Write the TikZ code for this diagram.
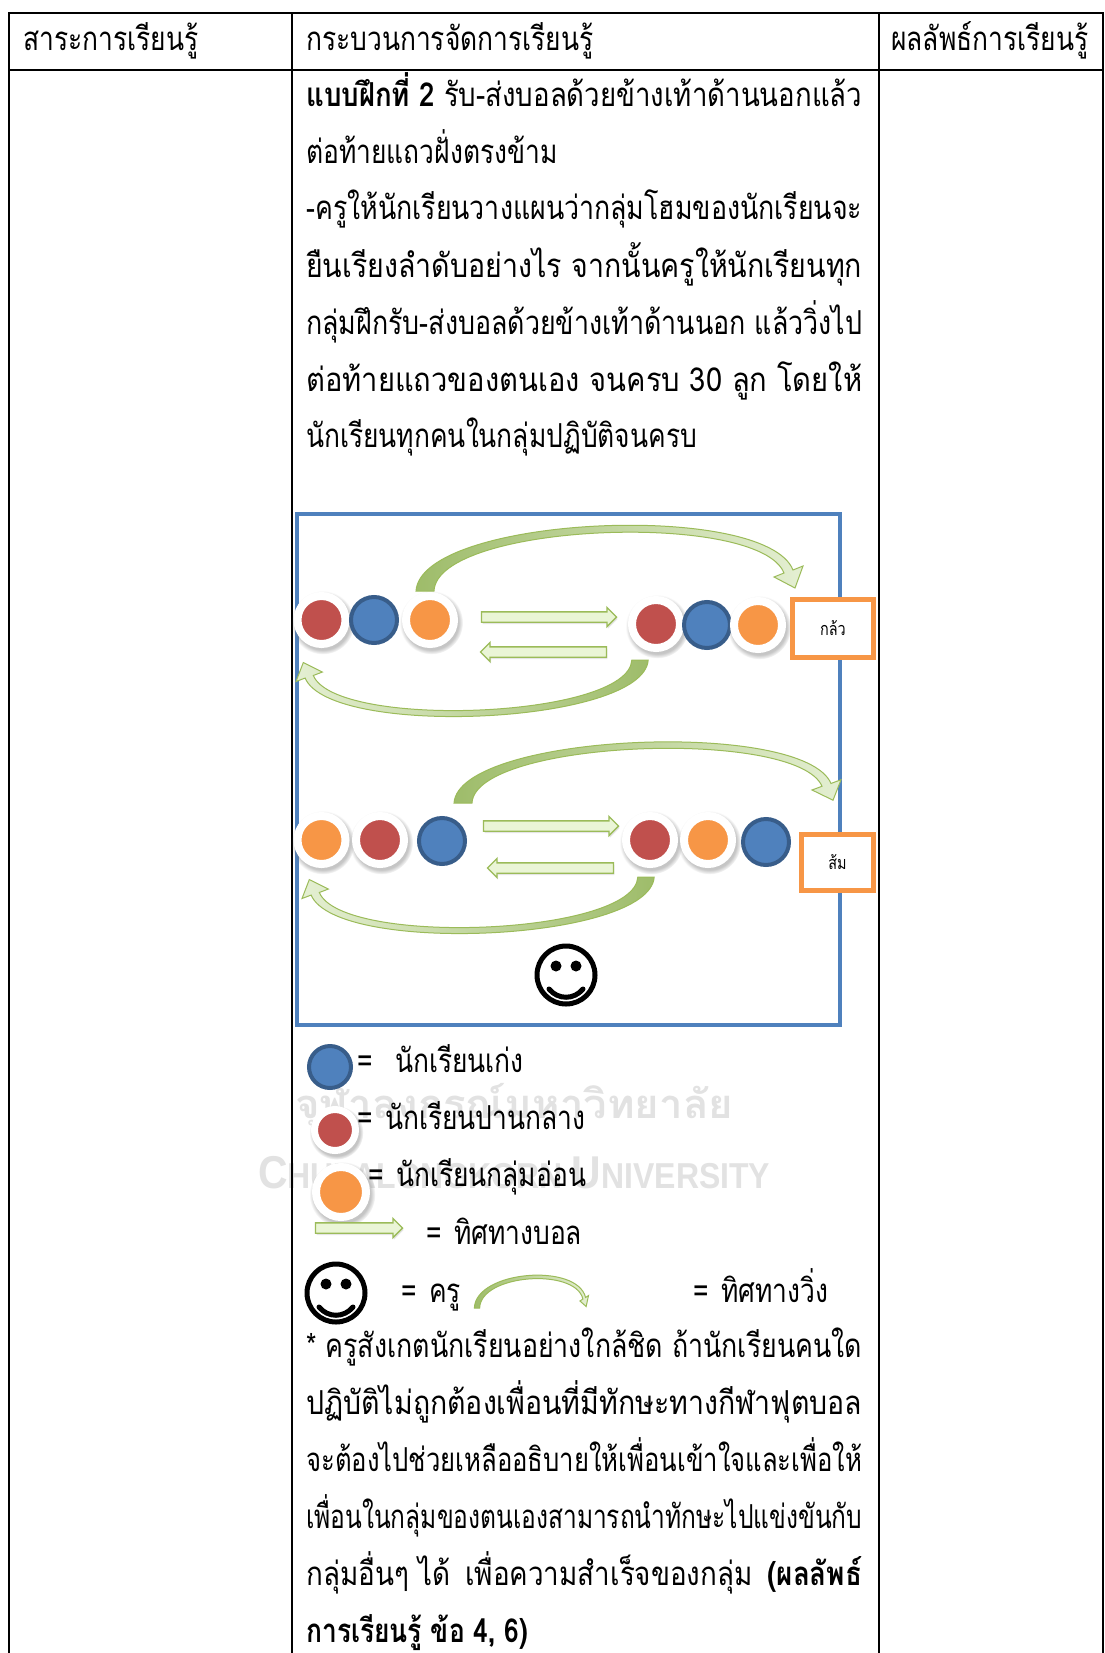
\documentclass[tikz,border=0pt]{standalone}
\usepackage{fontspec}
\usepackage{graphicx}
\newfontfamily\thaifont[Script=Thai,FakeStretch=0.8]{Loma}
\newfontfamily\markfont{Liberation Sans}
\usetikzlibrary{positioning,shapes.arrows,shadows}
\definecolor{frameblue}{HTML}{4F81BD}
\definecolor{goodblue}{HTML}{4F81BD}
\definecolor{gooddark}{HTML}{385D8A}
\definecolor{midred}{HTML}{C0504D}
\definecolor{weakorange}{HTML}{F79646}
\definecolor{runline}{HTML}{9BBB59}
\definecolor{rundark}{HTML}{9EBC6A}
\definecolor{runlight}{HTML}{E4EFD2}
\definecolor{passfill}{HTML}{EAF5D6}
\definecolor{markgrey}{HTML}{E2E2E2}
\newcommand{\fullline}[1]{\resizebox{556pt}{\height}{#1}}
\tikzset{
	txt/.style={anchor=base west,inner sep=0pt,font=\thaifont\fontsize{33}{36}\selectfont},
	wmark/.style={anchor=base west,inner sep=0pt,text=markgrey},
	cell/.style={line width=2.5pt,black},
	frame/.style={rectangle,draw=frameblue,line width=4.5pt,inner sep=0pt},
	player/.style={circle,inner sep=0pt,minimum size=48pt,draw=white,line width=8pt,circular drop shadow={shadow scale=1.32,shadow xshift=1pt,shadow yshift=-2pt,opacity=.45}},
	mid/.style={player,fill=midred},
	weak/.style={player,fill=weakorange},
	good/.style={circle,inner sep=0pt,minimum size=46pt,fill=goodblue,draw=gooddark,line width=4pt},
	tag/.style={rectangle,draw=weakorange,line width=4.5pt,fill=white,inner sep=0pt,font=\thaifont\fontsize{18}{20}\selectfont},
	pass/.style={single arrow,draw=runline,fill=passfill,line width=1.3pt,inner xsep=0pt,inner ysep=4.5pt,single arrow head extend=4.5pt,drop shadow={shadow xshift=1pt,shadow yshift=-2pt,opacity=.2}},
	run/.pic={
		\path[pic actions] (-9,0) .. controls (-4,-75) and (340,-91) .. (368,-21) -- (378,-25) -- (370,-3)
			-- (349,-14) -- (359,-18) .. controls (334,-81) and (12,-68) .. (9,0) -- cycle;
	},
	face/.pic={
		\draw[line width=5pt] (0,0) circle (29pt);
		\fill (-10,-9) circle (5.5pt) (10,-9) circle (5.5pt);
		\draw[line width=5pt,line cap=round] (-17,14) .. controls (-8,25) and (8,25) .. (17,14);
	}
}
\begin{document}
\begin{tikzpicture}[x=1pt,y=-1pt]
	\useasboundingbox (0,0) rectangle (1104,1653);
	\fill[white] (0,0) rectangle (1104,1653);
	
	% watermark
	\node[wmark] (wmthai) at (295,1118) {\thaifont\fontsize{40}{40}\selectfont\resizebox{438pt}{\height}{\textbf{จุฬาลงกรณ์มหาวิทยาลัย}}};
	\node[wmark] (wmeng) at (258,1188) {\markfont\bfseries\resizebox{512pt}{\height}{\fontsize{46}{46}\selectfont C\fontsize{36}{36}\selectfont HULALONGKORN \fontsize{46}{46}\selectfont U\fontsize{36}{36}\selectfont NIVERSITY}};
	
	% table
	\draw[cell] (9,1653) -- (9,13) -- (1103,13) -- (1103,1653);
	\draw[cell] (9,70) -- (1103,70);
	\draw[cell] (292,13) -- (292,1653);
	\draw[cell] (879,13) -- (879,1653);
	
	\node[txt] (head1) at (23,51) {สาระการเรียนรู้};
	\node[txt] (head2) at (306,51) {กระบวนการจัดการเรียนรู้};
	\node[txt] (head3) at (891,51) {ผลลัพธ์การเรียนรู้};
	
	\node[txt] (l1) at (306,107) {\fullline{\textbf{แบบฝึกที่ 2} รับ-ส่งบอลด้วยข้างเท้าด้านนอกแล้ว}};
	\node[txt] (l2) at (306,164) {ต่อท้ายแถวฝั่งตรงข้าม};
	\node[txt] (l3) at (306,220) {\fullline{-ครูให้นักเรียนวางแผนว่ากลุ่มโฮมของนักเรียนจะ}};
	\node[txt] (l4) at (306,277) {\fullline{ยืนเรียงลำดับอย่างไร จากนั้นครูให้นักเรียนทุก}};
	\node[txt] (l5) at (306,334) {\fullline{กลุ่มฝึกรับ-ส่งบอลด้วยข้างเท้าด้านนอก แล้ววิ่งไป}};
	\node[txt] (l6) at (306,391) {\fullline{ต่อท้ายแถวของตนเอง จนครบ 30 ลูก โดยให้}};
	\node[txt] (l7) at (306,447) {นักเรียนทุกคนในกลุ่มปฏิบัติจนครบ};
	
	% field
	\node[frame,minimum width=543pt,minimum height=511pt] (field) at (568.5,769.5) {};
	
	% row 1
	\pic[draw=runline,line width=1pt,left color=rundark,right color=runlight] at (425,591) {run};
	\pic[draw=runline,line width=1pt,left color=runlight,right color=rundark,rotate=180,xscale=.91,yscale=.86] at (640,660) {run};
	\node[pass,minimum height=135pt] (toss1) at (546.5,617) {};
	\node[pass,shape border rotate=180,minimum height=126pt] (back1) at (546,652) {};
	\node[mid] (a1) at (321.5,620) {};
	\node[good] (a2) at (374,620) {};
	\node[weak] (a3) at (430,620) {};
	\node[mid] (b1) at (656,624) {};
	\node[good] (b2) at (707,625) {};
	\node[weak] (b3) at (758,625) {};
	\node[tag,minimum width=81pt,minimum height=58pt] (team1) at (833,628.5) {กล้ว};
	
	% row 2
	\pic[draw=runline,line width=1pt,left color=rundark,right color=runlight,yscale=.93] at (463,803) {run};
	\pic[draw=runline,line width=1pt,left color=runlight,right color=rundark,rotate=180,xscale=.91,yscale=.86] at (646,877) {run};
	\node[pass,minimum height=135pt] (toss2) at (548.5,826) {};
	\node[pass,shape border rotate=180,minimum height=126pt] (back2) at (553,868) {};
	\node[weak] (c1) at (321.5,840) {};
	\node[mid] (c2) at (380,840) {};
	\node[good] (c3) at (442,841) {};
	\node[mid] (d1) at (650,840) {};
	\node[weak] (d2) at (708,840) {};
	\node[good] (d3) at (766,842) {};
	\node[tag,minimum width=72pt,minimum height=56pt] (team2) at (837.5,862.5) {ส้ม};
	
	\pic at (566,975) {face};
	
	% legend
	\node[good,minimum size=42pt] (kgood) at (330,1067) {};
	\node[txt] (eq1) at (357,1072) {=};
	\node[txt,base right=22pt of eq1] (tgood) {นักเรียนเก่ง};
	\node[mid,minimum size=41pt,line width=7pt] (kmid) at (335,1130) {};
	\node[txt] (eq2) at (357,1129) {=};
	\node[txt,base right=12pt of eq2] (tmid) {นักเรียนปานกลาง};
	\node[weak,minimum size=50pt] (kweak) at (341,1192) {};
	\node[txt] (eq3) at (368,1186) {=};
	\node[txt,base right=12pt of eq3] (tweak) {นักเรียนกลุ่มอ่อน};
	\node[pass,minimum height=87pt] (kpass) at (356.5,1228) {};
	\node[txt] (eq4) at (426,1244) {=};
	\node[txt,base right=12pt of eq4] (tpass) {ทิศทางบอล};
	\pic at (336,1293) {face};
	\node[txt] (eq5) at (401,1302) {=};
	\node[txt,base right=12pt of eq5] (tteach) {ครู};
	\pic[draw=runline,line width=1pt,left color=rundark,right color=runlight,xscale=.295,yscale=.5] at (477,1308) {run};
	\node[txt] (eq6) at (693,1302) {=};
	\node[txt,base right=12pt of eq6] (trun) {ทิศทางวิ่ง};
	
	\node[txt] (m1) at (306,1357) {\fullline{* ครูสังเกตนักเรียนอย่างใกล้ชิด ถ้านักเรียนคนใด}};
	\node[txt] (m2) at (306,1414) {\fullline{ปฏิบัติไม่ถูกต้องเพื่อนที่มีทักษะทางกีฬาฟุตบอล}};
	\node[txt] (m3) at (306,1471) {\fullline{จะต้องไปช่วยเหลืออธิบายให้เพื่อนเข้าใจและเพื่อให้}};
	\node[txt] (m4) at (306,1528) {\fullline{เพื่อนในกลุ่มของตนเองสามารถนำทักษะไปแข่งขันกับ}};
	\node[txt] (m5) at (306,1585) {\fullline{กลุ่มอื่นๆ ได้\hspace{14pt}เพื่อความสำเร็จของกลุ่ม\hspace{14pt}\textbf{(ผลลัพธ์}}};
	\node[txt] (m6) at (306,1642) {\textbf{การเรียนรู้ ข้อ 4, 6)}};
\end{tikzpicture}
\end{document}
